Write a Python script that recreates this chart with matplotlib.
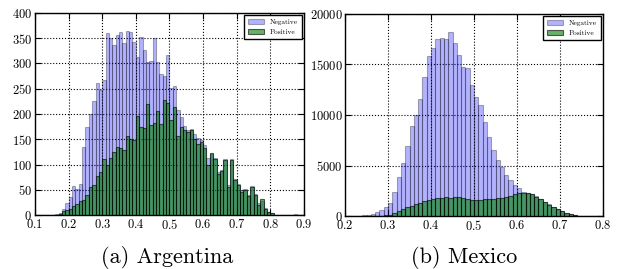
import numpy as np
import matplotlib
matplotlib.use("Agg")
import matplotlib.pyplot as plt

# Argentina: bins 0.10 .. 0.89, width 0.01
arg_start = 0.10
arg_neg = [0, 0, 0, 0, 1, 1, 2, 4, 12, 24,
           35, 58, 52, 62, 135, 175, 200, 225, 262, 248,
           268, 360, 350, 336, 357, 362, 340, 365, 362, 342,
           312, 352, 326, 302, 305, 350, 302, 280, 276, 316,
           252, 255, 208, 195, 176, 168, 170, 160, 152, 148,
           138, 112, 120, 112, 86, 90, 110, 60, 110, 72,
           62, 50, 52, 40, 57, 42, 24, 28, 14, 6,
           4, 1, 1, 0, 1, 1, 0, 2, 1, 0]
arg_pos = [0, 0, 0, 0, 0, 0, 0, 2, 8, 10,
           12, 18, 22, 27, 30, 40, 55, 60, 78, 85,
           110, 100, 113, 124, 135, 133, 128, 157, 150, 148,
           197, 175, 172, 220, 178, 182, 205, 180, 228, 222,
           188, 214, 157, 174, 169, 165, 168, 150, 140, 145,
           132, 100, 122, 110, 82, 88, 108, 56, 108, 70,
           60, 46, 50, 38, 55, 40, 20, 32, 12, 5,
           3, 1, 0, 0, 0, 0, 0, 0, 0, 0]

# Mexico: bins 0.20 .. 0.79, width 0.01
mex_start = 0.20
mex_neg = [5, 10, 20, 40, 60, 100, 200, 350, 600, 850,
           1250, 2400, 3900, 5200, 6900, 8900, 10000, 11550, 13800, 15800,
           16600, 17500, 17600, 17500, 18250, 17150, 15900, 14800, 14700, 13000,
           11800, 11000, 9300, 7850, 6550, 5550, 4900, 4050, 3550, 3050,
           2750, 2400, 2300, 2150, 1950, 1700, 1400, 1150, 900, 700,
           480, 300, 170, 90, 45, 20, 10, 5, 2, 1]
mex_pos = [0, 0, 0, 0, 0, 5, 10, 20, 40, 60,
           100, 250, 450, 700, 900, 1000, 1150, 1300, 1450, 1600,
           1700, 1800, 1750, 1850, 1800, 1900, 1850, 1800, 1700, 1600,
           1550, 1600, 1650, 1650, 1700, 1750, 1800, 1850, 1950, 2150,
           2300, 2250, 2250, 2150, 1900, 1650, 1350, 1100, 850, 650,
           450, 280, 150, 80, 40, 20, 8, 3, 1, 0]

bin_w = 0.01

plt.rcParams['font.family'] = ['cmr10', 'DejaVu Serif']
plt.rcParams['axes.formatter.use_mathtext'] = True

fig = plt.figure(figsize=(6.18, 2.69), dpi=100)
ax1 = fig.add_axes([0.0566, 0.2007, 0.4353, 0.751])
ax2 = fig.add_axes([0.5583, 0.197, 0.4174, 0.751])


def draw(ax, start, neg, pos, xlim, ylim, yticks):
    left = start + bin_w * np.arange(len(neg))
    ax.bar(left, neg, width=bin_w, align='edge', color='b', alpha=0.3,
           edgecolor='k', linewidth=0.8, label='Negative', zorder=2)
    ax.bar(left, pos, width=bin_w, align='edge', color='g', alpha=0.6,
           edgecolor='k', linewidth=0.8, label='Positive', zorder=3)
    ax.set_xlim(*xlim)
    ax.set_ylim(*ylim)
    ax.set_yticks(yticks)
    ax.grid(True, linestyle=':', color='k', linewidth=0.8, zorder=0)
    ax.set_axisbelow(True)
    ax.tick_params(direction='in', top=True, right=True, labelsize=9,
                   length=4, pad=2)
    for sp in ax.spines.values():
        sp.set_linewidth(1.0)
    leg = ax.legend(loc='upper right', fontsize=5.3, fancybox=False,
                    framealpha=1, edgecolor='k', borderpad=0.5,
                    handlelength=2.2, borderaxespad=0.3)
    leg.get_frame().set_linewidth(1.0)


draw(ax1, arg_start, arg_neg, arg_pos, (0.1, 0.9), (0, 400),
     np.arange(0, 401, 50))
ax1.set_xticks(np.arange(0.1, 0.91, 0.1))
draw(ax2, mex_start, mex_neg, mex_pos, (0.2, 0.8), (0, 20000),
     np.arange(0, 20001, 5000))
ax2.set_xticks(np.arange(0.2, 0.81, 0.1))

fig.text(0.270, 0.041, '(a) Argentina', ha='center', va='center', fontsize=16)
fig.text(0.751, 0.041, '(b) Mexico', ha='center', va='center', fontsize=16)

fig.savefig('out.png', dpi=100, facecolor='white')
